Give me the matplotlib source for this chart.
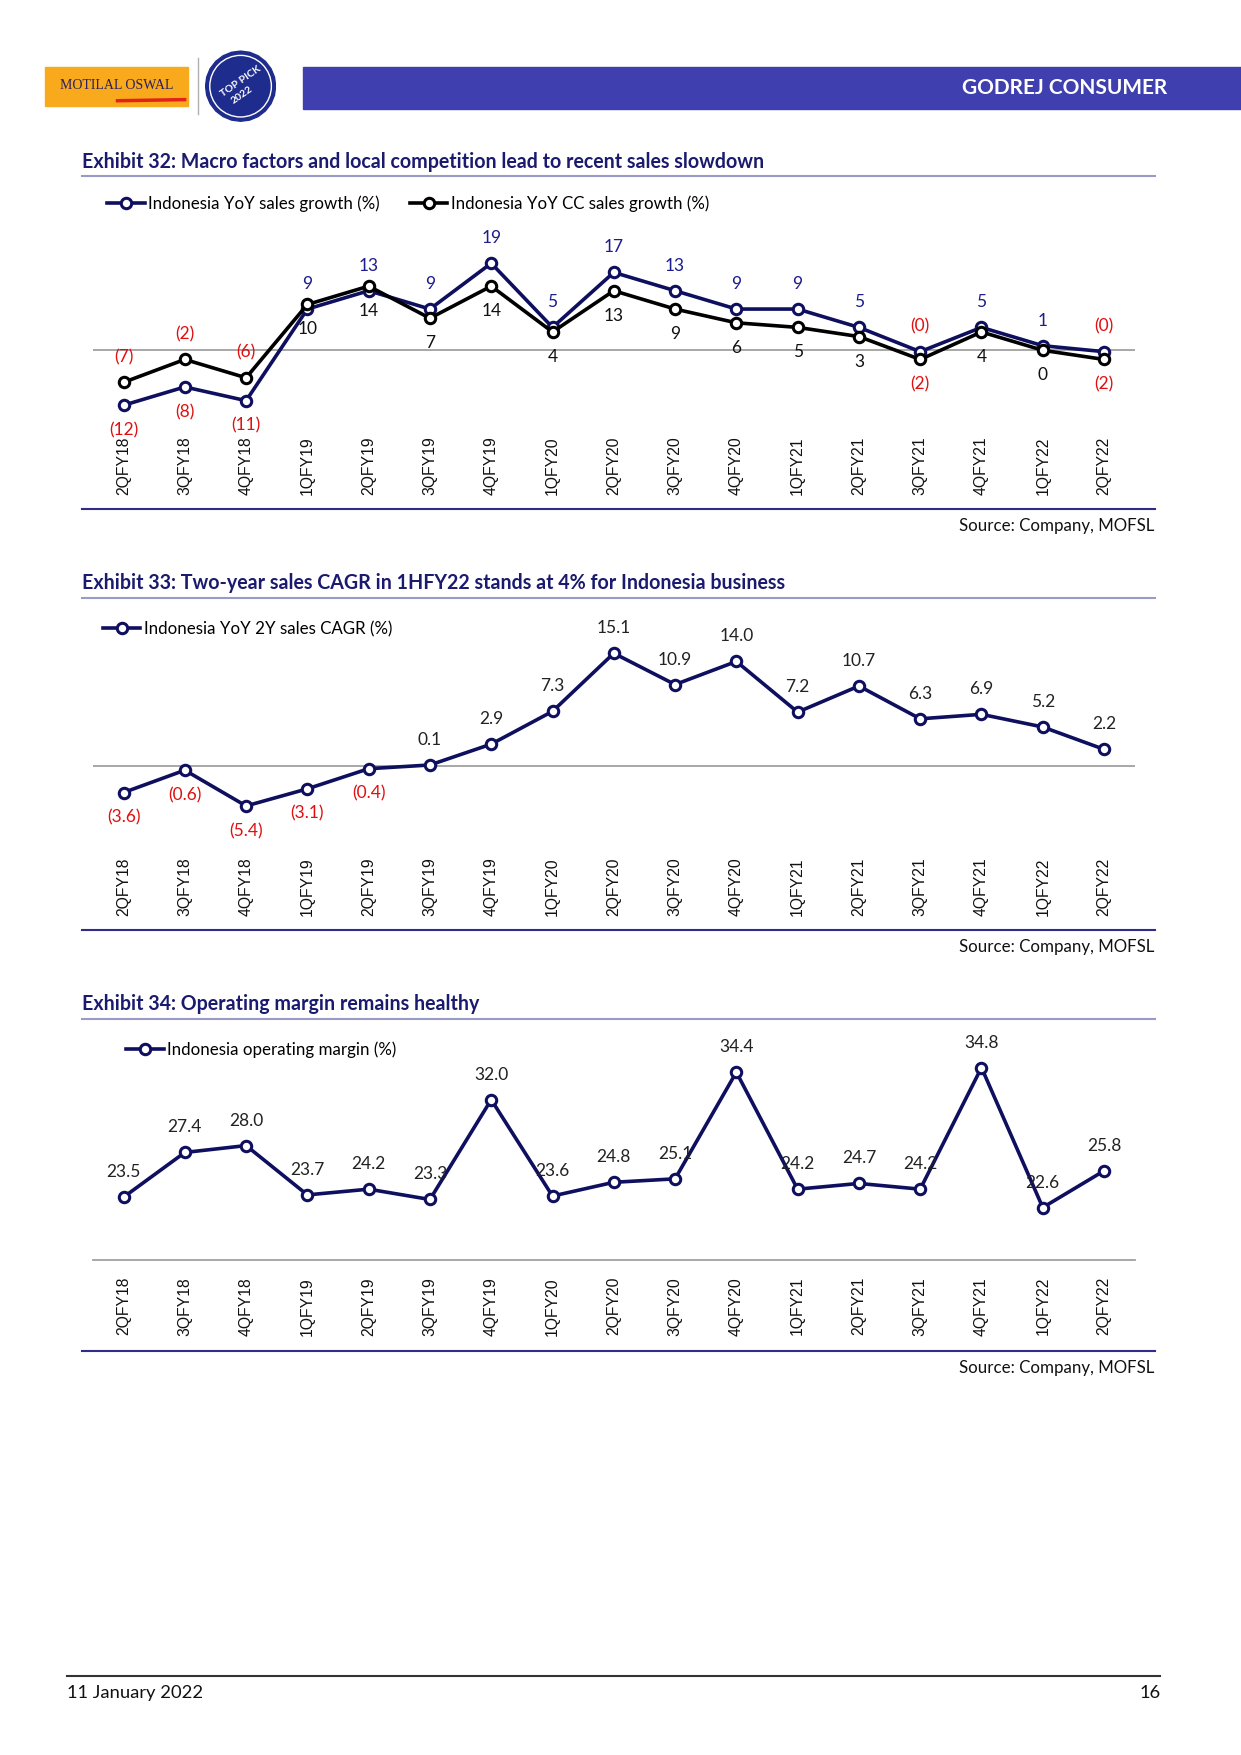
import matplotlib
matplotlib.use("Agg")
import matplotlib.pyplot as plt
from matplotlib.patches import Rectangle, Circle, RegularPolygon
from matplotlib.lines import Line2D

plt.rcParams["font.family"] = ["Lato", "DejaVu Sans"]

quarters = ["2QFY18", "3QFY18", "4QFY18", "1QFY19", "2QFY19", "3QFY19", "4QFY19", "1QFY20",
            "2QFY20", "3QFY20", "4QFY20", "1QFY21", "2QFY21", "3QFY21", "4QFY21", "1QFY22", "2QFY22"]

sales_growth = [-12, -8, -11, 9, 13, 9, 19, 5, 17, 13, 9, 9, 5, -0.3, 5, 1, -0.3]
cc_sales_growth = [-7, -2, -6, 10, 14, 7, 14, 4, 13, 9, 6, 5, 3, -2, 4, 0, -2]
cagr_2y = [-3.6, -0.6, -5.4, -3.1, -0.4, 0.1, 2.9, 7.3, 15.1, 10.9, 14.0, 7.2, 10.7, 6.3, 6.9, 5.2, 2.2]
op_margin = [23.5, 27.4, 28.0, 23.7, 24.2, 23.3, 32.0, 23.6, 24.8, 25.1, 34.4, 24.2, 24.7, 24.2, 34.8, 22.6, 25.8]

NAVY = "#0F0F5F"
LABEL_BLUE = "#1C1C8C"
RED = "#E01010"
W, H = 1109.0, 1568.0
LBL = 12.5


def fx(x):
    return x / W


def fy(y):
    return 1 - y / H


def fmt(v, dec):
    s = f"{abs(v):.{dec}f}"
    return f"({s})" if v < 0 else s


fig = plt.figure(figsize=(12.41, 17.55), dpi=100)

# header
fig.patches.append(Rectangle((fx(271), fy(97)), fx(W) - fx(271), (97 - 60) / H,
                             transform=fig.transFigure, color="#3F3FAF", zorder=0))
fig.text(fx(1043), fy(79), "GODREJ CONSUMER", color="white", fontsize=15, fontweight="bold",
         ha="right", va="center")
fig.patches.append(Rectangle((fx(40), fy(95)), fx(128), 35 / H, transform=fig.transFigure,
                             color="#F9A91C", zorder=1))
fig.text(fx(104), fy(76), "MOTILAL OSWAL", color="#2A1F5F", fontsize=10, ha="center",
         va="center", family="Liberation Serif")
fig.add_artist(Line2D([fx(105), fx(165)], [fy(90), fy(89)], color="#E2231A", lw=2.5))
fig.add_artist(Line2D([fx(177), fx(177)], [fy(52), fy(102)], color="#B0B0B0", lw=1))
badge_ax = fig.add_axes([fx(183), fy(109), fx(64), 64 / H])
badge_ax.set_xlim(-1, 1)
badge_ax.set_ylim(-1, 1)
badge_ax.set_aspect("equal")
badge_ax.axis("off")
badge_ax.add_patch(RegularPolygon((0, 0), 24, radius=0.98, color="#1E2C8E"))
badge_ax.add_patch(Circle((0, 0), 0.86, color="#1E2C8E", ec="white", lw=1))
badge_ax.text(0, 0.12, "TOP PICK", color="white", fontsize=7.5, fontweight="bold", rotation=35,
              ha="center", va="center")
badge_ax.text(0.05, -0.25, "2022", color="white", fontsize=7.5, fontweight="bold", rotation=35,
              ha="center", va="center")


def frame(title, y_title, y_line, y_bottom, y_source):
    fig.text(fx(73), fy(y_title), title, color="#1A1A6E", fontsize=14.1, fontweight="bold",
             ha="left", va="center")
    fig.add_artist(Line2D([fx(73), fx(1032)], [fy(y_line), fy(y_line)], color="#9A9AC8", lw=1.5))
    fig.add_artist(Line2D([fx(73), fx(1032)], [fy(y_bottom), fy(y_bottom)], color="#2E2E8A", lw=1.5))
    fig.text(fx(1032), fy(y_source), "Source: Company, MOFSL", color="#111111", fontsize=12.2,
             ha="right", va="center")


def chart_ax(y_top, y_bot, ylim, pad):
    ax = fig.add_axes([fx(83), fy(y_bot), fx(1014) - fx(83), (y_bot - y_top) / H])
    ax.set_xlim(-0.5, len(quarters) - 0.5)
    ax.set_ylim(*ylim)
    for s in ax.spines.values():
        s.set_visible(False)
    ax.set_yticks([])
    ax.set_xticks(range(len(quarters)))
    ax.set_xticklabels(quarters, rotation=90, family="Liberation Sans", fontsize=11.3,
                       color="#111111")
    ax.tick_params(axis="x", length=0, pad=pad)
    ax.patch.set_alpha(0)
    return ax


def series(ax, vals, color, z):
    ax.plot(range(len(vals)), vals, color=color, lw=2.6, marker="o", ms=7.5, mfc="white",
            mec=color, mew=2.2, zorder=z, clip_on=False)


mk = dict(marker="o", ms=7.5, mfc="white", mew=2.2, lw=2.6)

# Exhibit 32
frame("Exhibit 32: Macro factors and local competition lead to recent sales slowdown", 145, 157, 455, 470)
ax1 = chart_ax(200, 385, (-17.6, 27.6), 4)
ax1.axhline(0, color="#A0A0A0", lw=1.3, zorder=1)
series(ax1, sales_growth, NAVY, 3)
series(ax1, cc_sales_growth, "black", 4)
for i, v in enumerate(sales_growth):
    above = i >= 3
    ax1.annotate(fmt(v, 0), (i, v), xytext=(0, 18 if above else -18), textcoords="offset points",
                 ha="center", va="center", fontsize=LBL, color=RED if v < 0 else LABEL_BLUE)
for i, v in enumerate(cc_sales_growth):
    above = i < 3
    ax1.annotate(fmt(v, 0), (i, v), xytext=(0, 18 if above else -18), textcoords="offset points",
                 ha="center", va="center", fontsize=LBL, color=RED if v < 0 else "#111111")
ax1.legend([Line2D([], [], color=NAVY, mec=NAVY, **mk), Line2D([], [], color="black", mec="black", **mk)],
           ["Indonesia YoY sales growth (%)", "Indonesia YoY CC sales growth (%)"],
           loc="center left", bbox_to_anchor=(fx(96), fy(182)), bbox_transform=fig.transFigure,
           ncol=2, frameon=False, fontsize=12.2, handlelength=2.2, handletextpad=0.2,
           columnspacing=1.8, borderaxespad=0, borderpad=0)

# Exhibit 33
frame("Exhibit 33: Two-year sales CAGR in 1HFY22 stands at 4% for Indonesia business", 521, 534, 831, 846)
ax2 = chart_ax(575, 760, (-11.4, 16.4), 5)
ax2.axhline(0, color="#A0A0A0", lw=1.3, zorder=1)
series(ax2, cagr_2y, NAVY, 3)
for i, v in enumerate(cagr_2y):
    ax2.annotate(fmt(v, 1), (i, v), xytext=(0, 18 if v >= 0 else -18), textcoords="offset points",
                 ha="center", va="center", fontsize=LBL, color=RED if v < 0 else "#222222")
ax2.legend([Line2D([], [], color=NAVY, mec=NAVY, **mk)], ["Indonesia YoY 2Y sales CAGR (%)"],
           loc="center left", bbox_to_anchor=(fx(92), fy(562)), bbox_transform=fig.transFigure,
           frameon=False, fontsize=12.2, handlelength=2.2, handletextpad=0.2, borderaxespad=0, borderpad=0)

# Exhibit 34
frame("Exhibit 34: Operating margin remains healthy", 897, 910, 1207, 1222)
ax3 = chart_ax(920, 1126, (18, 38.1), 12)
ax3.spines["bottom"].set_visible(True)
ax3.spines["bottom"].set_color("#A0A0A0")
ax3.spines["bottom"].set_linewidth(1.3)
series(ax3, op_margin, NAVY, 3)
for i, v in enumerate(op_margin):
    ax3.annotate(fmt(v, 1), (i, v), xytext=(0, 18), textcoords="offset points",
                 ha="center", va="center", fontsize=LBL, color="#222222")
ax3.legend([Line2D([], [], color=NAVY, mec=NAVY, **mk)], ["Indonesia operating margin (%)"],
           loc="center left", bbox_to_anchor=(fx(113), fy(938)), bbox_transform=fig.transFigure,
           frameon=False, fontsize=12.2, handlelength=2.2, handletextpad=0.2, borderaxespad=0, borderpad=0)

# footer
fig.add_artist(Line2D([fx(60), fx(1037)], [fy(1497), fy(1497)], color="#333333", lw=1.5))
fig.text(fx(60), fy(1513), "11 January 2022", fontsize=13.2, ha="left", va="center", color="#111111")
fig.text(fx(1037), fy(1513), "16", fontsize=13.2, ha="right", va="center", color="#111111")

fig.savefig("out.png", dpi=100)
